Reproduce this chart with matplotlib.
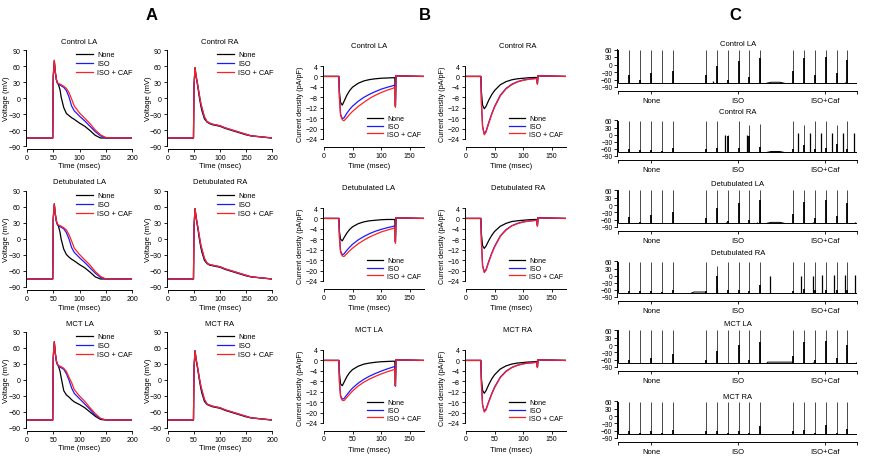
import matplotlib
matplotlib.use('Agg')
import matplotlib.pyplot as plt

plt.rcParams['font.family'] = ['Liberation Sans', 'DejaVu Sans']
plt.rcParams['axes.linewidth'] = 0.8

W, H = 872, 460

# ---------------- Panel A: action potentials ----------------
ap_time = [0, 49, 50, 52, 54, 56, 58, 60, 63, 65, 70, 75, 80, 85, 90, 100, 110, 120, 130, 140, 150, 160, 200]
a_ctrl_la_none = [-75, -75, 40, 70, 48, 34, 28, 25, 15, 2, -18, -29, -33, -37, -40, -47, -53, -61, -70, -75, -75, -75, -75]
a_ctrl_la_iso = [-75, -75, 40, 68, 47, 34, 28, 26, 24, 23, 20, 14, 2, -15, -24, -34, -43, -53, -63, -71, -75, -75, -75]
a_ctrl_la_caf = [-75, -75, 42, 71, 49, 35, 29, 27, 26, 25, 22, 18, 10, -2, -15, -28, -38, -48, -60, -69, -74, -75, -75]
a_ctrl_ra_none = [-75, -75, 20, 57, 40, 29, 17, 3, -14, -23, -39, -45, -48, -50, -51, -53, -57, -60, -63, -66, -69, -71, -75]
a_ctrl_ra_iso = [-75, -75, 25, 55, 41, 31, 19, 7, -10, -18, -36, -44, -47, -49, -50, -52, -56, -59, -62, -65, -68, -71, -75]
a_ctrl_ra_caf = [-75, -75, 25, 57, 42, 32, 20, 8, -9, -17, -35, -44, -47, -49, -50, -52, -56, -59, -62, -65, -68, -71, -75]
a_detu_la_none = [-75, -75, 38, 66, 46, 33, 27, 24, 12, 0, -19, -29, -34, -38, -41, -48, -54, -62, -71, -75, -75, -75, -75]
a_detu_la_iso = [-75, -75, 38, 64, 46, 33, 27, 25, 23, 22, 19, 12, 0, -16, -25, -35, -44, -54, -64, -72, -75, -75, -75]
a_detu_la_caf = [-75, -75, 40, 66, 47, 34, 28, 26, 25, 24, 21, 17, 8, -4, -17, -29, -39, -49, -61, -70, -75, -75, -75]
a_detu_ra_none = [-75, -75, 20, 57, 40, 28, 16, 2, -15, -24, -40, -46, -49, -50, -51, -53, -57, -60, -63, -66, -69, -71, -75]
a_detu_ra_iso = [-75, -75, 25, 56, 41, 30, 18, 6, -11, -19, -37, -45, -48, -49, -50, -52, -56, -59, -62, -65, -68, -71, -75]
a_detu_ra_caf = [-75, -75, 25, 57, 42, 31, 19, 7, -10, -18, -36, -45, -48, -49, -50, -52, -56, -59, -62, -65, -68, -71, -75]
a_mct_la_none = [-75, -75, 42, 72, 50, 35, 29, 26, 16, 5, -20, -28, -32, -37, -41, -46, -52, -60, -68, -74, -75, -75, -75]
a_mct_la_iso = [-75, -75, 42, 70, 49, 35, 29, 26, 24, 23, 20, 12, 0, -15, -25, -35, -45, -55, -66, -72, -75, -75, -75]
a_mct_la_caf = [-75, -75, 44, 72, 50, 36, 30, 27, 26, 25, 22, 16, 5, -5, -18, -30, -40, -52, -63, -72, -75, -75, -75]
a_mct_ra_none = [-75, -75, 20, 55, 38, 27, 15, 2, -15, -24, -40, -46, -48, -50, -51, -53, -57, -60, -63, -66, -69, -71, -75]
a_mct_ra_iso = [-75, -75, 25, 54, 39, 29, 17, 5, -11, -19, -37, -45, -47, -49, -50, -52, -56, -59, -62, -65, -68, -71, -75]
a_mct_ra_caf = [-75, -75, 25, 55, 40, 30, 18, 6, -10, -18, -36, -45, -47, -49, -50, -52, -56, -59, -62, -65, -68, -71, -75]

# ---------------- Panel B: current density ----------------
b_time = [0, 26, 27, 29, 32, 35, 40, 45, 50, 60, 70, 80, 90, 100, 110, 120, 124, 125, 126, 130, 175]
b_ctrl_la_none = [0, 0, -6, -10, -11, -9.6, -7.2, -5.4, -4.1, -2.6, -1.7, -1.2, -0.9, -0.7, -0.6, -0.5, -0.5, -11.5, 0.3, 0.2, 0]
b_ctrl_la_iso = [0, 0, -8, -14.5, -16.2, -15.9, -14.1, -12.6, -11.4, -9.5, -8.0, -6.8, -5.8, -4.9, -4.2, -3.6, -3.3, -11.0, 0.3, 0.2, 0]
b_ctrl_la_caf = [0, 0, -8, -15, -16.6, -17.0, -15.8, -14.5, -13.4, -11.5, -9.9, -8.4, -7.2, -6.2, -5.3, -4.6, -4.2, -11.8, 0.3, 0.2, 0]
b_ctrl_ra_none = [0, 0, -6, -11, -12.4, -11.5, -9.0, -7.0, -5.4, -3.2, -2.0, -1.3, -0.9, -0.7, -0.5, -0.4, -0.4, -2.5, 0.3, 0.2, 0]
b_ctrl_ra_iso = [0, 0, -10, -19, -22, -21, -17.5, -14.3, -11.5, -7.2, -4.6, -3.0, -2.0, -1.4, -1.0, -0.8, -0.7, -2.8, 0.3, 0.2, 0]
b_ctrl_ra_caf = [0, 0, -10, -19.5, -22.4, -21.4, -17.9, -14.6, -11.8, -7.5, -4.8, -3.2, -2.1, -1.5, -1.1, -0.9, -0.8, -3.0, 0.3, 0.2, 0]
b_detu_la_none = [0, 0, -5, -8, -8.6, -7.4, -5.6, -4.2, -3.2, -2.0, -1.3, -0.9, -0.7, -0.5, -0.4, -0.4, -0.4, -9.0, 0.3, 0.2, 0]
b_detu_la_iso = [0, 0, -7, -12.5, -14, -13.6, -12.2, -11, -9.9, -8.2, -6.9, -5.8, -4.9, -4.2, -3.6, -3.1, -2.8, -9.0, 0.3, 0.2, 0]
b_detu_la_caf = [0, 0, -7, -13, -14.4, -14.6, -13.5, -12.4, -11.4, -9.7, -8.3, -7.1, -6.1, -5.2, -4.5, -3.9, -3.6, -9.5, 0.3, 0.2, 0]
b_detu_ra_none = [0, 0, -6, -10.5, -11.5, -10.6, -8.4, -6.5, -5.0, -3.0, -1.9, -1.2, -0.9, -0.7, -0.5, -0.4, -0.4, -2.5, 0.3, 0.2, 0]
b_detu_ra_iso = [0, 0, -9, -18, -20.5, -19.6, -16.3, -13.3, -10.7, -6.7, -4.3, -2.8, -1.9, -1.3, -1.0, -0.8, -0.7, -2.8, 0.3, 0.2, 0]
b_detu_ra_caf = [0, 0, -9, -18.3, -20.8, -19.9, -16.6, -13.6, -11.0, -6.9, -4.5, -2.9, -2.0, -1.4, -1.0, -0.8, -0.7, -3.0, 0.3, 0.2, 0]
b_mct_la_none = [0, 0, -5, -9, -9.7, -8.4, -6.2, -4.6, -3.5, -2.2, -1.4, -1.0, -0.7, -0.5, -0.4, -0.3, -0.3, -9.8, 0.3, 0.2, 0]
b_mct_la_iso = [0, 0, -8, -13.5, -14.9, -14.6, -13.2, -11.8, -10.6, -8.7, -7.2, -6.0, -5.0, -4.1, -3.3, -2.6, -2.3, -9.8, 0.3, 0.2, 0]
b_mct_la_caf = [0, 0, -8, -14, -15.3, -15.4, -14.2, -12.9, -11.7, -9.8, -8.3, -7.1, -6.1, -5.2, -4.4, -3.7, -3.4, -9.8, 0.3, 0.2, 0]
b_mct_ra_none = [0, 0, -7, -11.5, -12.6, -11.6, -9.2, -7.1, -5.5, -3.3, -2.1, -1.4, -1.0, -0.8, -0.6, -0.5, -0.4, -2.5, 0.3, 0.2, 0]
b_mct_ra_iso = [0, 0, -9, -17, -19.5, -18.7, -15.6, -12.7, -10.2, -6.4, -4.1, -2.7, -1.8, -1.3, -1.0, -0.8, -0.7, -2.6, 0.3, 0.2, 0]
b_mct_ra_caf = [0, 0, -9, -17.3, -19.8, -19.0, -15.9, -13.0, -10.5, -6.6, -4.3, -2.8, -1.9, -1.3, -1.0, -0.8, -0.7, -2.8, 0.3, 0.2, 0]

# ---------------- Panel C: spike trains ----------------
c_spike_t = [0.0, 1.0, 2.0, 3.0, 4.0, 5.0, 8.0, 8.95, 9.95, 10.95, 11.9, 12.9, 15.9, 16.9, 17.9, 18.85, 19.85, 20.8]
c_ctrl_la_peak = [60, 60, 60, 60, 60, 60, 60, 60, 60, 60, 60, 60, 60, 60, 60, 60, 60, 60]
c_ctrl_la_shoulder = [60, -42, -62, -33, -72, -24, -40, -6, -60, 13, -49, 27, -26, 27, -42, 31, -33, 17]
c_ctrl_ra_peak = [58, 58, 58, 58, 58, 58, 58, 58, 0, 58, 40, 45, 58, 39, 58, 58, 39, 58]
c_ctrl_ra_shoulder = [58, -62, -65, -63, -70, -56, -62, -56, -5, -55, -5, -50, -60, -45, -60, -58, -40, -60]
c_detu_la_peak = [60, 60, 60, 60, 60, 60, 60, 60, 60, 60, 60, 60, 60, 60, 60, 60, 60, 60]
c_detu_la_shoulder = [60, -50, -70, -40, -72, -27, -52, -12, -65, 8, -60, 20, -35, 12, -52, 22, -43, 8]
c_detu_ra_peak = [58, 58, 58, 58, 58, 58, 58, 40, 58, 58, 58, 58, 58, 58, 58, 58, 58, 58]
c_detu_ra_shoulder = [58, -65, -65, -65, -70, -62, -65, -3, -60, -60, -65, -40, -65, -55, -60, -60, -60, -60]
c_mct_la_peak = [60, 60, 60, 60, 60, 60, 60, 60, 60, 60, 60, 60, 60, 60, 60, 60, 60, 60]
c_mct_la_shoulder = [60, -60, -73, -52, -72, -36, -60, -25, -72, 0, -62, 13, -46, 13, -60, 17, -52, 0]
c_mct_ra_peak = [58, 58, 58, 58, 58, 58, 58, 58, 58, 58, 58, 58, 58, 58, 58, 58, 58, 58]
c_mct_ra_shoulder = [58, -62, -68, -60, -68, -58, -62, -60, -68, -60, -68, -40, -62, -58, -68, -35, -68, -55]
# extra (triggered / small) events
c_ctrl_la_extra_t = [8.66, 20.6]
c_ctrl_la_extra_v = [-66, -70]
c_ctrl_ra_extra_t = [9.75, 11.7, 16.3, 17.4, 18.45, 19.4, 20.45, 21.4]
c_ctrl_ra_extra_v = [0, 0, 8, 8, 7, 7, 8, 7]
c_detu_la_extra_t = [9.8, 12.6, 17.7, 21.5]
c_detu_la_extra_v = [-68, -70, -68, -70]
c_detu_ra_extra_t = [9.0, 13.8, 16.64, 17.66, 18.55, 19.57, 20.57, 21.48]
c_detu_ra_extra_v = [-55, -3, 0, 0, 3, 3, 3, 3]
c_mct_la_extra_t = [17.7, 21.6]
c_mct_la_extra_v = [-68, -68]
c_mct_ra_extra_t = []
c_mct_ra_extra_v = []
# slow baseline humps
c_ctrl_la_hump_t = [13.5, 13.9, 14.7, 15.1]
c_ctrl_la_hump_v = [-75, -71, -71, -75]
c_ctrl_ra_hump_t = [13.5, 13.9, 14.7, 15.1]
c_ctrl_ra_hump_v = [-75, -71, -71, -75]
c_detu_la_hump_t = [13.5, 13.9, 14.7, 15.1]
c_detu_la_hump_v = [-75, -71, -71, -75]
c_detu_ra_hump_t = [6.6, 6.9, 7.9, 8.0]
c_detu_ra_hump_v = [-75, -69, -69, -75]
c_mct_la_hump_t = [13.5, 13.6, 15.8, 15.9]
c_mct_la_hump_v = [-75, -70, -70, -75]
c_mct_ra_hump_t = []
c_mct_ra_hump_v = []

c_tick_pos = [0, 3.0, 10.9, 18.8, 21.7]
c_tick_lab = ['', 'None', 'ISO', 'ISO+Caf', '']
legend_labels = ['None', 'ISO', 'ISO + CAF']
colors = ['black', '#1a1aff', '#ff2020']

fig = plt.figure(figsize=(W / 100, H / 100), dpi=100)


def add_ax(x0, y0, x1, y1):
    return fig.add_axes([x0 / W, 1 - y1 / H, (x1 - x0) / W, (y1 - y0) / H])


def style(ax, bottom_out=2, left_out=1):
    for s in ['top', 'right']:
        ax.spines[s].set_visible(False)
    ax.spines['bottom'].set_position(('outward', bottom_out))
    ax.spines['left'].set_position(('outward', left_out))
    for s in ['bottom', 'left']:
        ax.spines[s].set_linewidth(0.7)
    ax.tick_params(direction='out', length=2, width=0.6, labelsize=5, pad=1.5)


def ptext(x, y, s, **kw):
    fig.text(x / W, 1 - y / H, s, **kw)


# Panel A
a_sets = [
    ('Control LA', a_ctrl_la_none, a_ctrl_la_iso, a_ctrl_la_caf),
    ('Control RA', a_ctrl_ra_none, a_ctrl_ra_iso, a_ctrl_ra_caf),
    ('Detubulated LA', a_detu_la_none, a_detu_la_iso, a_detu_la_caf),
    ('Detubulated RA', a_detu_ra_none, a_detu_ra_iso, a_detu_ra_caf),
    ('MCT LA', a_mct_la_none, a_mct_la_iso, a_mct_la_caf),
    ('MCT RA', a_mct_ra_none, a_mct_ra_iso, a_mct_ra_caf),
]
a_cols = [(27, 132), (168, 272)]
for i, (title, n, iso, caf) in enumerate(a_sets):
    r, c = divmod(i, 2)
    x0, x1 = a_cols[c]
    top = 51 + 141 * r
    ax = add_ax(x0, top, x1, top + 96)
    for y, col, lab in zip([n, iso, caf], colors, legend_labels):
        ax.plot(ap_time, y, color=col, lw=0.9, label=lab)
    ax.set_xlim(0, 200)
    ax.set_ylim(-90, 90)
    ax.set_xticks([0, 50, 100, 150, 200])
    ax.set_yticks([90, 60, 30, 0, -30, -60, -90])
    style(ax, 2, 1)
    ax.legend(frameon=False, fontsize=5.3, loc='upper left', bbox_to_anchor=(0.44, 1.02),
              handlelength=2.3, labelspacing=0.25, handletextpad=0.6, borderaxespad=0)
    cx = (x0 + x1) / 2
    ptext(cx, top - 9, title, ha='center', va='center', fontsize=5.5)
    ptext(cx, top + 116, 'Time (msec)', ha='center', va='center', fontsize=5.5)
    ptext(x0 - 20, top + 48, 'Voltage (mV)', ha='center', va='center', fontsize=5.5, rotation=90)

# Panel B
b_sets = [
    ('Control LA', b_ctrl_la_none, b_ctrl_la_iso, b_ctrl_la_caf),
    ('Control RA', b_ctrl_ra_none, b_ctrl_ra_iso, b_ctrl_ra_caf),
    ('Detubulated LA', b_detu_la_none, b_detu_la_iso, b_detu_la_caf),
    ('Detubulated RA', b_detu_ra_none, b_detu_ra_iso, b_detu_ra_caf),
    ('MCT LA', b_mct_la_none, b_mct_la_iso, b_mct_la_caf),
    ('MCT RA', b_mct_ra_none, b_mct_ra_iso, b_mct_ra_caf),
]
b_cols = [(324, 424), (466, 566)]
b_title_x = [369, 518]
for i, (title, n, iso, caf) in enumerate(b_sets):
    r, c = divmod(i, 2)
    x0, x1 = b_cols[c]
    top = 67 + 142 * r
    ax = add_ax(x0, top, x1, top + 73)
    for y, col, lab in zip([n, iso, caf], colors, legend_labels):
        ax.plot(b_time, y, color=col, lw=0.9, label=lab)
    ax.set_xlim(0, 175)
    ax.set_ylim(-24, 4)
    ax.set_xticks([0, 50, 100, 150])
    ax.set_yticks([4, 0, -4, -8, -12, -16, -20, -24])
    style(ax, 5.5, 1)
    ax.legend(frameon=False, fontsize=5, loc='lower left', bbox_to_anchor=(0.40, -0.02),
              handlelength=2.3, labelspacing=0.1, handletextpad=0.6, borderaxespad=0)
    ptext(b_title_x[c], top - 20, title, ha='center', va='center', fontsize=5.5)
    ptext(x0 + 45, top + 100, 'Time (msec)', ha='center', va='center', fontsize=5.5)
    ptext(x0 - 24, top + 37, 'Current density (pA/pF)', ha='center', va='center', fontsize=5.2, rotation=90)

# Panel C
c_sets = [
    ('Control LA', c_ctrl_la_peak, c_ctrl_la_shoulder, c_ctrl_la_extra_t, c_ctrl_la_extra_v, c_ctrl_la_hump_t, c_ctrl_la_hump_v),
    ('Control RA', c_ctrl_ra_peak, c_ctrl_ra_shoulder, c_ctrl_ra_extra_t, c_ctrl_ra_extra_v, c_ctrl_ra_hump_t, c_ctrl_ra_hump_v),
    ('Detubulated LA', c_detu_la_peak, c_detu_la_shoulder, c_detu_la_extra_t, c_detu_la_extra_v, c_detu_la_hump_t, c_detu_la_hump_v),
    ('Detubulated RA', c_detu_ra_peak, c_detu_ra_shoulder, c_detu_ra_extra_t, c_detu_ra_extra_v, c_detu_ra_hump_t, c_detu_ra_hump_v),
    ('MCT LA', c_mct_la_peak, c_mct_la_shoulder, c_mct_la_extra_t, c_mct_la_extra_v, c_mct_la_hump_t, c_mct_la_hump_v),
    ('MCT RA', c_mct_ra_peak, c_mct_ra_shoulder, c_mct_ra_extra_t, c_mct_ra_extra_v, c_mct_ra_hump_t, c_mct_ra_hump_v),
]
c_tops = [50, 121, 191, 262, 331, 402]
c_bots = [88, 157, 228, 298, 368, 439]
c_titles_y = [44, 113, 185, 254, 324, 398]
for i, (title, pk, sh, ext, exv, ht, hv) in enumerate(c_sets):
    ax = add_ax(618, c_tops[i], 857, c_bots[i])
    base = -75
    ax.hlines(base, 0, 21.7, color='black', lw=0.7)
    ax.vlines(c_spike_t, base, pk, color='black', lw=0.5)
    ax.vlines(c_spike_t, base, sh, color='black', lw=1.3)
    if ext:
        ax.vlines(ext, base, exv, color='black', lw=0.9)
    if ht:
        ax.plot(ht, hv, color='black', lw=0.7)
    ax.set_xlim(0, 21.7)
    ax.set_ylim(-90, 62)
    ax.set_yticks([60, 30, 0, -30, -60, -90])
    ax.set_xticks(c_tick_pos)
    ax.set_xticklabels(c_tick_lab)
    style(ax, 3, 0.5)
    ax.tick_params(axis='x', labelsize=5.5, pad=2)
    ax.tick_params(axis='y', labelsize=4.8)
    ptext(738, c_titles_y[i], title, ha='center', va='center', fontsize=5.5)

ptext(152, 16, 'A', ha='center', va='center', fontsize=12, fontweight='bold')
ptext(425, 16, 'B', ha='center', va='center', fontsize=12, fontweight='bold')
ptext(735, 16, 'C', ha='center', va='center', fontsize=12, fontweight='bold')

fig.savefig('out.png', dpi=100)
